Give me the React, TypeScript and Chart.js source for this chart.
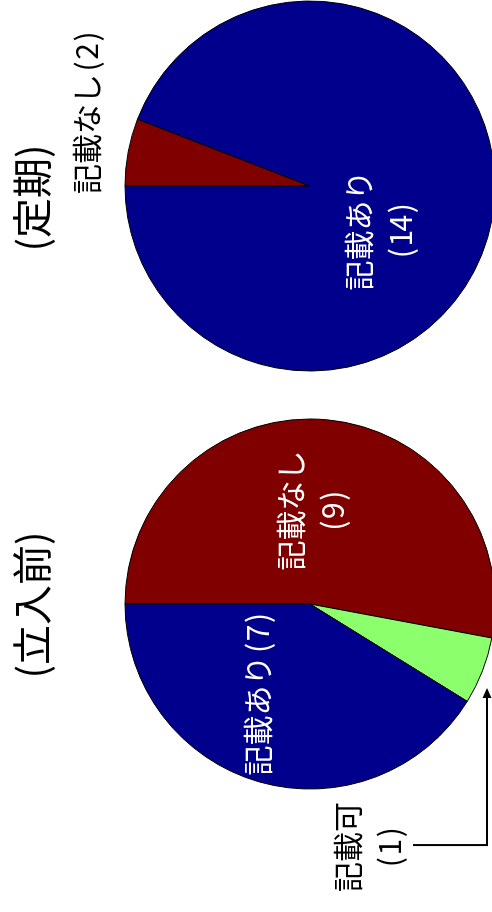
import React, { useEffect, useRef } from 'react';
import { Chart, registerables } from 'chart.js';

Chart.register(...registerables);

// ---- data ----
const preTitle = '(立入前)';
const preLabels = ['記載なし', '記載可', '記載あり'];
const preValues = [9, 1, 7];
const preCounts = ['(9)', '(1)', '(7)'];

const regTitle = '(定期)';
const regLabels = ['記載なし', '記載あり'];
const regValues = [1, 16]; // slice sizes as drawn in the picture
const regCounts = ['(2)', '(14)'];

const colorNashi = '#800000';
const colorKa = '#8CFF6C';
const colorAri = '#00008C';

const FONT = '"Noto Sans CJK JP", "Noto Sans", sans-serif';

// draw text with half-width cells for ASCII characters (like a Japanese gothic font)
function drawCellText(ctx: CanvasRenderingContext2D, text: string, cx: number, cy: number, size: number) {
  const chars = Array.from(text);
  const widths = chars.map((ch) => (ch.charCodeAt(0) < 256 ? size * 0.5 : ctx.measureText(ch).width));
  const total = widths.reduce((a, b) => a + b, 0);
  let x = cx - total / 2;
  chars.forEach((ch, i) => {
    ctx.fillText(ch, x + widths[i] / 2, cy);
    x += widths[i];
  });
}

const textPlugin = {
  id: 'pieText',
  afterDatasetsDraw(chart: any, _args: any, opts: any) {
    const meta = chart.getDatasetMeta(0);
    const a0: any = meta.data[0];
    if (!a0) return;
    const cx = a0.x;
    const cy = a0.y;
    const r = a0.outerRadius;
    const ctx = chart.ctx;
    const labels: string[] = chart.data.labels;
    ctx.save();
    ctx.textAlign = 'center';
    ctx.textBaseline = 'middle';
    // title
    ctx.fillStyle = '#000';
    ctx.font = `${opts.titleSize}px ${FONT}`;
    ctx.fillText(opts.title, cx + opts.titleDx * r, cy + opts.titleDy * r);
    // slice labels
    ctx.font = `${opts.labelSize}px ${FONT}`;
    opts.items.forEach((it: any, i: number) => {
      const lines = it.split ? [labels[i], opts.counts[i]] : [labels[i] + opts.counts[i]];
      const bx = cx + it.dx * r;
      const by = cy + it.dy * r;
      const lh = opts.lineHeight;
      ctx.fillStyle = it.color;
      lines.forEach((ln: string, k: number) => {
        drawCellText(ctx, ln, bx, by + (k - (lines.length - 1) / 2) * lh, opts.labelSize);
      });
    });
    // leader arrow
    if (opts.leader) {
      const pts = opts.leader.map((p: number[]) => [cx + p[0] * r, cy + p[1] * r]);
      const [tx, ty] = pts[pts.length - 1];
      const [px, py] = pts[pts.length - 2];
      const ang = Math.atan2(ty - py, tx - px);
      const L = 10, W = 4.5;
      ctx.strokeStyle = '#000';
      ctx.lineWidth = 2;
      ctx.beginPath();
      ctx.moveTo(pts[0][0], pts[0][1]);
      for (let k = 1; k < pts.length - 1; k++) ctx.lineTo(pts[k][0], pts[k][1]);
      ctx.lineTo(tx - (L - 1) * Math.cos(ang), ty - (L - 1) * Math.sin(ang));
      ctx.stroke();
      ctx.fillStyle = '#000';
      ctx.beginPath();
      ctx.moveTo(tx, ty);
      ctx.lineTo(tx - L * Math.cos(ang) + W * Math.sin(ang), ty - L * Math.sin(ang) - W * Math.cos(ang));
      ctx.lineTo(tx - L * Math.cos(ang) - W * Math.sin(ang), ty - L * Math.sin(ang) + W * Math.cos(ang));
      ctx.closePath();
      ctx.fill();
    }
    ctx.restore();
  },
};

function makePie(canvas: HTMLCanvasElement, labels: string[], values: number[], colors: string[], pluginOpts: any) {
  return new Chart(canvas, {
    type: 'pie',
    data: {
      labels,
      datasets: [
        {
          data: values,
          backgroundColor: colors,
          borderColor: '#000',
          borderWidth: 1,
          radius: 185,
        } as any,
      ],
    },
    options: {
      responsive: false,
      animation: false,
      events: [],
      layout: { padding: 0 },
      plugins: {
        legend: { display: false },
        tooltip: { enabled: false },
        title: { display: false },
        pieText: pluginOpts,
      } as any,
    },
    plugins: [textPlugin],
  });
}

export default function App() {
  const ref1 = useRef<HTMLCanvasElement>(null);
  const ref2 = useRef<HTMLCanvasElement>(null);

  useEffect(() => {
    const c1 = makePie(ref1.current!, preLabels, preValues, [colorNashi, colorKa, colorAri], {
      title: preTitle,
      titleSize: 40,
      titleDx: -0.005,
      titleDy: -1.505,
      labelSize: 30,
      lineHeight: 42,
      counts: preCounts,
      items: [
        { dx: 0.505, dy: 0.008, split: true, color: '#fff' },
        { dx: -1.314, dy: 0.319, split: true, color: '#000' },
        { dx: -0.481, dy: -0.281, split: false, color: '#fff' },
      ],
      leader: [
        [-1.303, 0.557],
        [-1.303, 0.957],
        [-0.454, 0.957],
      ],
    });
    const c2 = makePie(ref2.current!, regLabels, regValues, [colorNashi, colorAri], {
      title: regTitle,
      titleSize: 40,
      titleDx: -0.065,
      titleDy: -1.505,
      labelSize: 30,
      lineHeight: 42,
      counts: regCounts,
      items: [
        { dx: 0.403, dy: -1.205, split: false, color: '#000' },
        { dx: -0.241, dy: 0.376, split: true, color: '#fff' },
      ],
    });
    return () => {
      c1.destroy();
      c2.destroy();
    };
  }, []);

  return (
    <div
      style={{
        position: 'fixed',
        left: 0,
        top: 0,
        width: 492,
        height: 912,
        overflow: 'hidden',
        background: '#fff',
      }}
    >
      <div
        style={{
          position: 'absolute',
          left: 0,
          top: 0,
          width: 912,
          height: 492,
          overflow: 'hidden',
          transformOrigin: '0 0',
          transform: 'translate(0px, 912px) rotate(-90deg)',
        }}
      >
        <canvas
          ref={ref1}
          width={616}
          height={620}
          style={{ position: 'absolute', left: 0, top: 0, width: 616, height: 620 }}
        />
        <canvas
          ref={ref2}
          width={372}
          height={620}
          style={{ position: 'absolute', left: 540, top: 0, width: 372, height: 620 }}
        />
      </div>
    </div>
  );
}
